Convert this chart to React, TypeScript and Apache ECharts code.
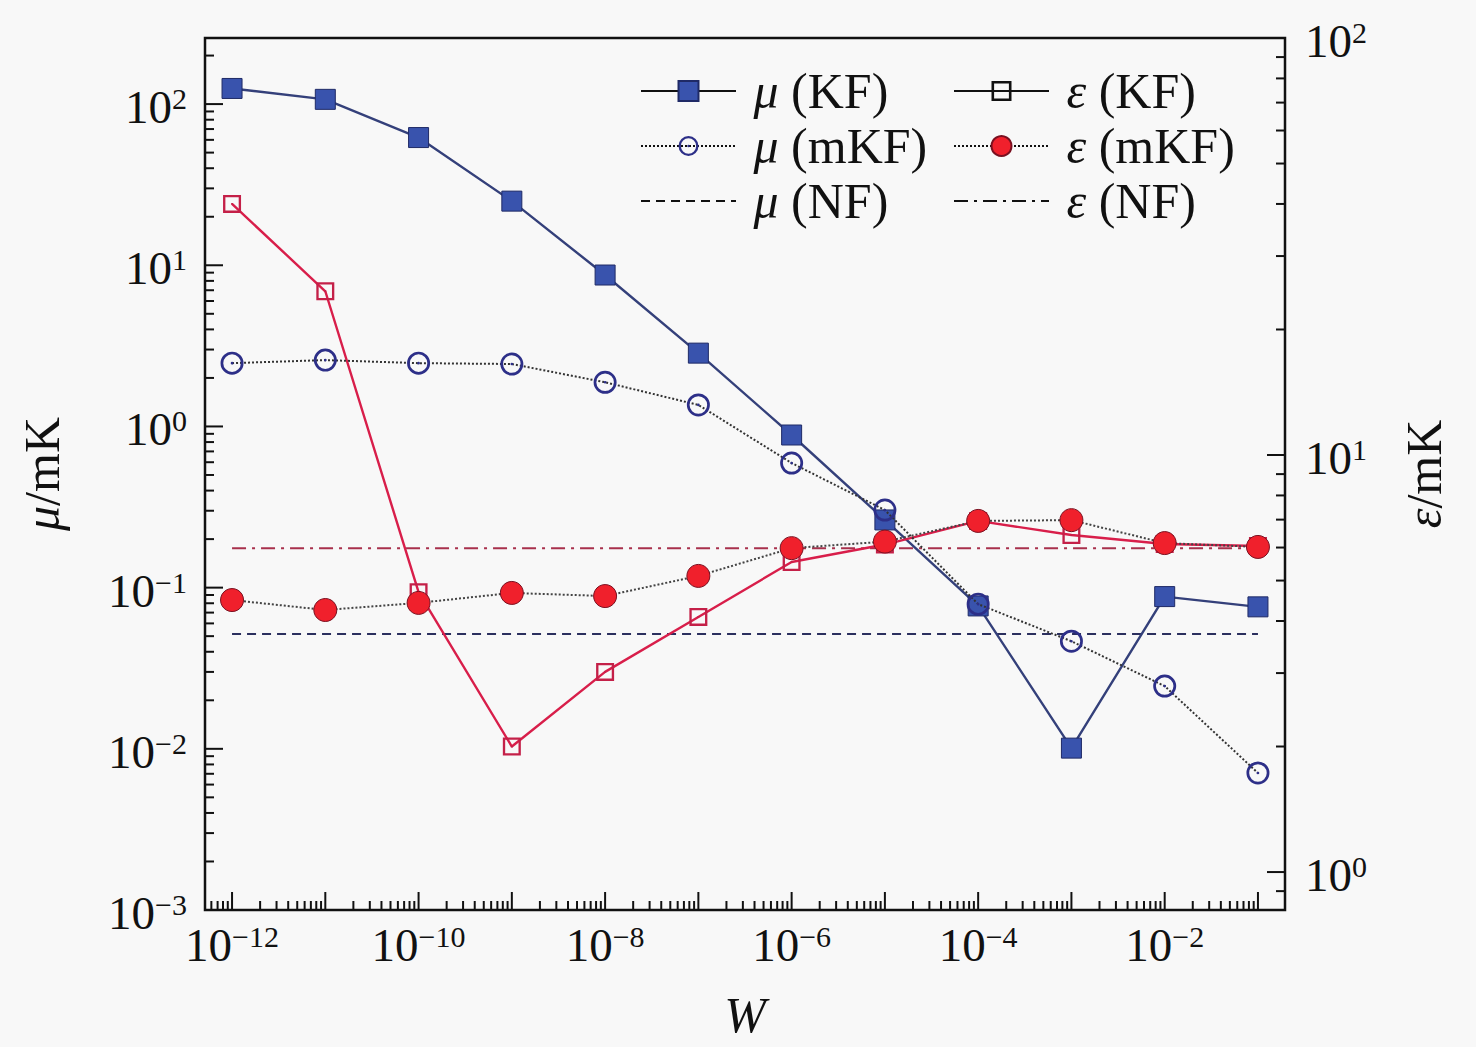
import React, { useEffect, useRef } from 'react';
import * as echarts from 'echarts';

// x 轴：W
const wValues = [1e-12, 1e-11, 1e-10, 1e-9, 1e-8, 1e-7, 1e-6, 1e-5, 1e-4, 1e-3, 1e-2, 1e-1];

// 左轴 μ/mK
const muKF = [125, 107, 62, 25, 8.7, 2.85, 0.885, 0.263, 0.077, 0.0101, 0.088, 0.076];
const muMKF = [2.47, 2.58, 2.47, 2.44, 1.88, 1.36, 0.593, 0.303, 0.079, 0.0465, 0.0245, 0.00708];

// 右轴 ε/mK
const epsKF = [40.0, 24.7, 4.69, 2.0, 3.02, 4.09, 5.54, 6.1, 6.95, 6.43, 6.12, 6.05];
const epsMKF = [4.49, 4.25, 4.42, 4.67, 4.59, 5.13, 5.98, 6.2, 6.95, 6.98, 6.15, 6.02];

// 无滤波的水平参考线
const nfW = [1e-12, 1e-1];
const muNF = [0.0515, 0.0515];
const epsNF = [5.98, 5.98];

const X_MIN = -12.29;
const X_MAX = -0.71;
const YL_MIN = -3;
const YL_MAX = 2.41;
const YR_MIN = -0.091;
const YR_MAX = 2;

const FONT = 'Liberation Serif, Times New Roman, serif';
const INK = '#111';

const ringPath =
  'path://M12,1 A11,11 0 1,1 12,23 A11,11 0 1,1 12,1 Z M12,3.6 A8.4,8.4 0 1,0 12,20.4 A8.4,8.4 0 1,0 12,3.6 Z M12,10.7 A1.3,1.3 0 1,1 12,13.3 A1.3,1.3 0 1,1 12,10.7 Z';
const boxPath =
  'path://M0,0 L20,0 L20,20 L0,20 Z M2.6,2.6 L2.6,17.4 L17.4,17.4 L17.4,2.6 Z M9,9 L11,9 L11,11 L9,11 Z';

const lg = (v: number) => Math.log10(v);
const pairs = (xs: number[], ys: number[]) => xs.map((x, i) => [lg(x), lg(ys[i])]);

// 对数刻度位置（主刻度 + 2..9 的次刻度）
const logTicks = (lo: number, hi: number) => {
  const out: number[][] = [];
  for (let e = Math.floor(lo); e <= Math.ceil(hi); e++) {
    for (let k = 1; k <= 9; k++) {
      const v = e + Math.log10(k);
      if (v >= lo - 1e-9 && v <= hi + 1e-9) out.push([v, k === 1 ? 1 : 0]);
    }
  }
  return out;
};

const isInt = (v: number) => Math.abs(v - Math.round(v)) < 1e-6;
const sup = (v: number) => {
  const n = Math.round(v);
  return n < 0 ? '\u2212' + Math.abs(n) : String(n);
};
const powLabel = (v: number) => `{b|10}{s|${sup(v)}}`;

const labelRich = {
  b: { fontFamily: FONT, fontSize: 47, lineHeight: 47, color: INK },
  s: { fontFamily: FONT, fontSize: 30, lineHeight: 30, color: INK, verticalAlign: 'top' },
};

const MAJOR = 18;
const MINOR = 9;

const tickSeries = (which: 'bottom' | 'left' | 'right') => {
  const data =
    which === 'bottom' ? logTicks(X_MIN, X_MAX) : which === 'left' ? logTicks(YL_MIN, YL_MAX) : logTicks(YR_MIN, YR_MAX);
  return {
    type: 'custom',
    silent: true,
    xAxisIndex: 0,
    yAxisIndex: which === 'right' ? 1 : 0,
    z: 1,
    data,
    renderItem: (_p: any, api: any) => {
      const v = api.value(0);
      const len = api.value(1) ? MAJOR : MINOR;
      let pt: number[];
      let shape: any;
      if (which === 'bottom') {
        pt = api.coord([v, YL_MIN]);
        shape = { x1: pt[0], y1: pt[1], x2: pt[0], y2: pt[1] - len };
      } else if (which === 'left') {
        pt = api.coord([X_MIN, v]);
        shape = { x1: pt[0], y1: pt[1], x2: pt[0] + len, y2: pt[1] };
      } else {
        pt = api.coord([X_MAX, v]);
        shape = { x1: pt[0], y1: pt[1], x2: pt[0] - len, y2: pt[1] };
      }
      return { type: 'line', shape, style: { stroke: INK, lineWidth: 2 } };
    },
  };
};

const legendText = {
  fontFamily: FONT,
  fontSize: 50,
  lineHeight: 48,
  color: INK,
  rich: { i: { fontFamily: FONT, fontSize: 50, lineHeight: 48, fontStyle: 'italic', color: INK } },
};
const legendFmt = (name: string) => ' ' + name.replace(/^(μ|ε)/, '{i|$1}');

const legendBase = {
  orient: 'vertical',
  top: 66,
  padding: 0,
  itemWidth: 95,
  itemHeight: 25,
  itemGap: 5,
  selectedMode: false,
  textStyle: legendText,
  formatter: legendFmt,
};

const App = () => {
  const chartRef = useRef<HTMLDivElement>(null);

  useEffect(() => {
    if (!chartRef.current) return;
    const chart = echarts.init(chartRef.current, null, { renderer: 'svg' });

    const options = {
      animation: false,
      backgroundColor: '#f8f8f8',
      grid: {
        left: 205,
        right: 191,
        top: 38,
        bottom: 137,
        show: true,
        borderColor: INK,
        borderWidth: 2.5,
        backgroundColor: 'transparent',
      },
      legend: [
        {
          ...legendBase,
          left: 640,
          data: [
            { name: 'μ (KF)', lineStyle: { color: INK } },
            { name: 'μ (mKF)', lineStyle: { color: INK } },
            { name: 'μ (NF)', lineStyle: { color: INK }, itemStyle: { opacity: 0 } },
          ],
        },
        {
          ...legendBase,
          left: 953,
          data: [
            { name: 'ε (KF)', lineStyle: { color: INK }, itemStyle: { color: INK } },
            { name: 'ε (mKF)', lineStyle: { color: INK } },
            { name: 'ε (NF)', lineStyle: { color: INK }, itemStyle: { opacity: 0 } },
          ],
        },
      ],
      xAxis: {
        type: 'value',
        min: X_MIN,
        max: X_MAX,
        splitNumber: 11,
        name: 'W',
        nameLocation: 'middle',
        nameGap: 80,
        nameTextStyle: { fontFamily: FONT, fontSize: 50, fontStyle: 'italic', color: INK },
        axisLine: { show: false },
        axisTick: { show: false },
        splitLine: { show: false },
        axisLabel: {
          margin: 11,
          formatter: (v: number) => (isInt(v) && Math.round(v) % 2 === 0 ? powLabel(v) : ''),
          rich: labelRich,
        },
      },
      yAxis: [
        {
          type: 'value',
          min: YL_MIN,
          max: YL_MAX,
          splitNumber: 5,
          name: '{i|μ}/mK',
          nameLocation: 'middle',
          nameRotate: 90,
          nameGap: 138,
          nameTextStyle: {
            fontFamily: FONT,
            fontSize: 50,
            color: INK,
            rich: { i: { fontFamily: FONT, fontSize: 50, fontStyle: 'italic', color: INK } },
          },
          axisLine: { show: false },
          axisTick: { show: false },
          splitLine: { show: false },
          axisLabel: {
            margin: 18,
            padding: [6, 0, 0, 0],
            formatter: (v: number) => (isInt(v) ? powLabel(v) : ''),
            rich: labelRich,
          },
        },
        {
          type: 'value',
          position: 'right',
          min: YR_MIN,
          max: YR_MAX,
          splitNumber: 2,
          name: '{i|ε}/mK',
          nameLocation: 'middle',
          nameRotate: 90,
          nameGap: 114,
          nameTextStyle: {
            fontFamily: FONT,
            fontSize: 50,
            color: INK,
            rich: { i: { fontFamily: FONT, fontSize: 50, fontStyle: 'italic', color: INK } },
          },
          axisLine: { show: false },
          axisTick: { show: false },
          splitLine: { show: false },
          axisLabel: {
            margin: 20,
            padding: [6, 0, 0, 0],
            formatter: (v: number) => (isInt(v) ? powLabel(v) : ''),
            rich: labelRich,
          },
        },
      ],
      series: [
        {
          name: 'μ (NF)',
          type: 'line',
          yAxisIndex: 0,
          data: pairs(nfW, muNF),
          symbol: 'none',
          itemStyle: { color: '#2b2f5e' },
          lineStyle: { color: '#2b2f5e', width: 2, type: [9, 6] },
          z: 2,
        },
        {
          name: 'ε (NF)',
          type: 'line',
          yAxisIndex: 1,
          data: pairs(nfW, epsNF),
          symbol: 'none',
          itemStyle: { color: '#a8304c' },
          lineStyle: { color: '#a8304c', width: 2, type: [14, 6, 3, 6] },
          z: 2,
        },
        {
          name: 'μ (KF)',
          type: 'line',
          yAxisIndex: 0,
          data: pairs(wValues, muKF),
          symbol: 'rect',
          symbolSize: 20,
          itemStyle: { color: '#3953ad', borderColor: '#1f2a66', borderWidth: 1 },
          lineStyle: { color: '#34407a', width: 2.4 },
          z: 3,
        },
        {
          name: 'ε (KF)',
          type: 'line',
          yAxisIndex: 1,
          data: pairs(wValues, epsKF),
          symbol: boxPath,
          symbolSize: 18,
          symbolKeepAspect: true,
          itemStyle: { color: '#c42048' },
          lineStyle: { color: '#d81e4a', width: 2.4 },
          z: 4,
        },
        {
          name: 'μ (mKF)',
          type: 'line',
          yAxisIndex: 0,
          data: pairs(wValues, muMKF),
          symbol: ringPath,
          symbolSize: 23,
          symbolKeepAspect: true,
          itemStyle: { color: '#2d2f88' },
          lineStyle: { color: '#333', width: 2, type: 'dotted' },
          z: 5,
        },
        {
          name: 'ε (mKF)',
          type: 'line',
          yAxisIndex: 1,
          data: pairs(wValues, epsMKF),
          symbol: 'circle',
          symbolSize: 23,
          itemStyle: { color: '#f0202c', borderColor: '#7a1020', borderWidth: 1 },
          lineStyle: { color: '#444', width: 2, type: 'dotted' },
          z: 6,
        },
        tickSeries('bottom'),
        tickSeries('left'),
        tickSeries('right'),
      ],
    };

    chart.setOption(options as any);
    return () => chart.dispose();
  }, []);

  return <div ref={chartRef} style={{ position: 'fixed', left: 0, top: 0, width: 1476, height: 1047 }} />;
};

export default App;
